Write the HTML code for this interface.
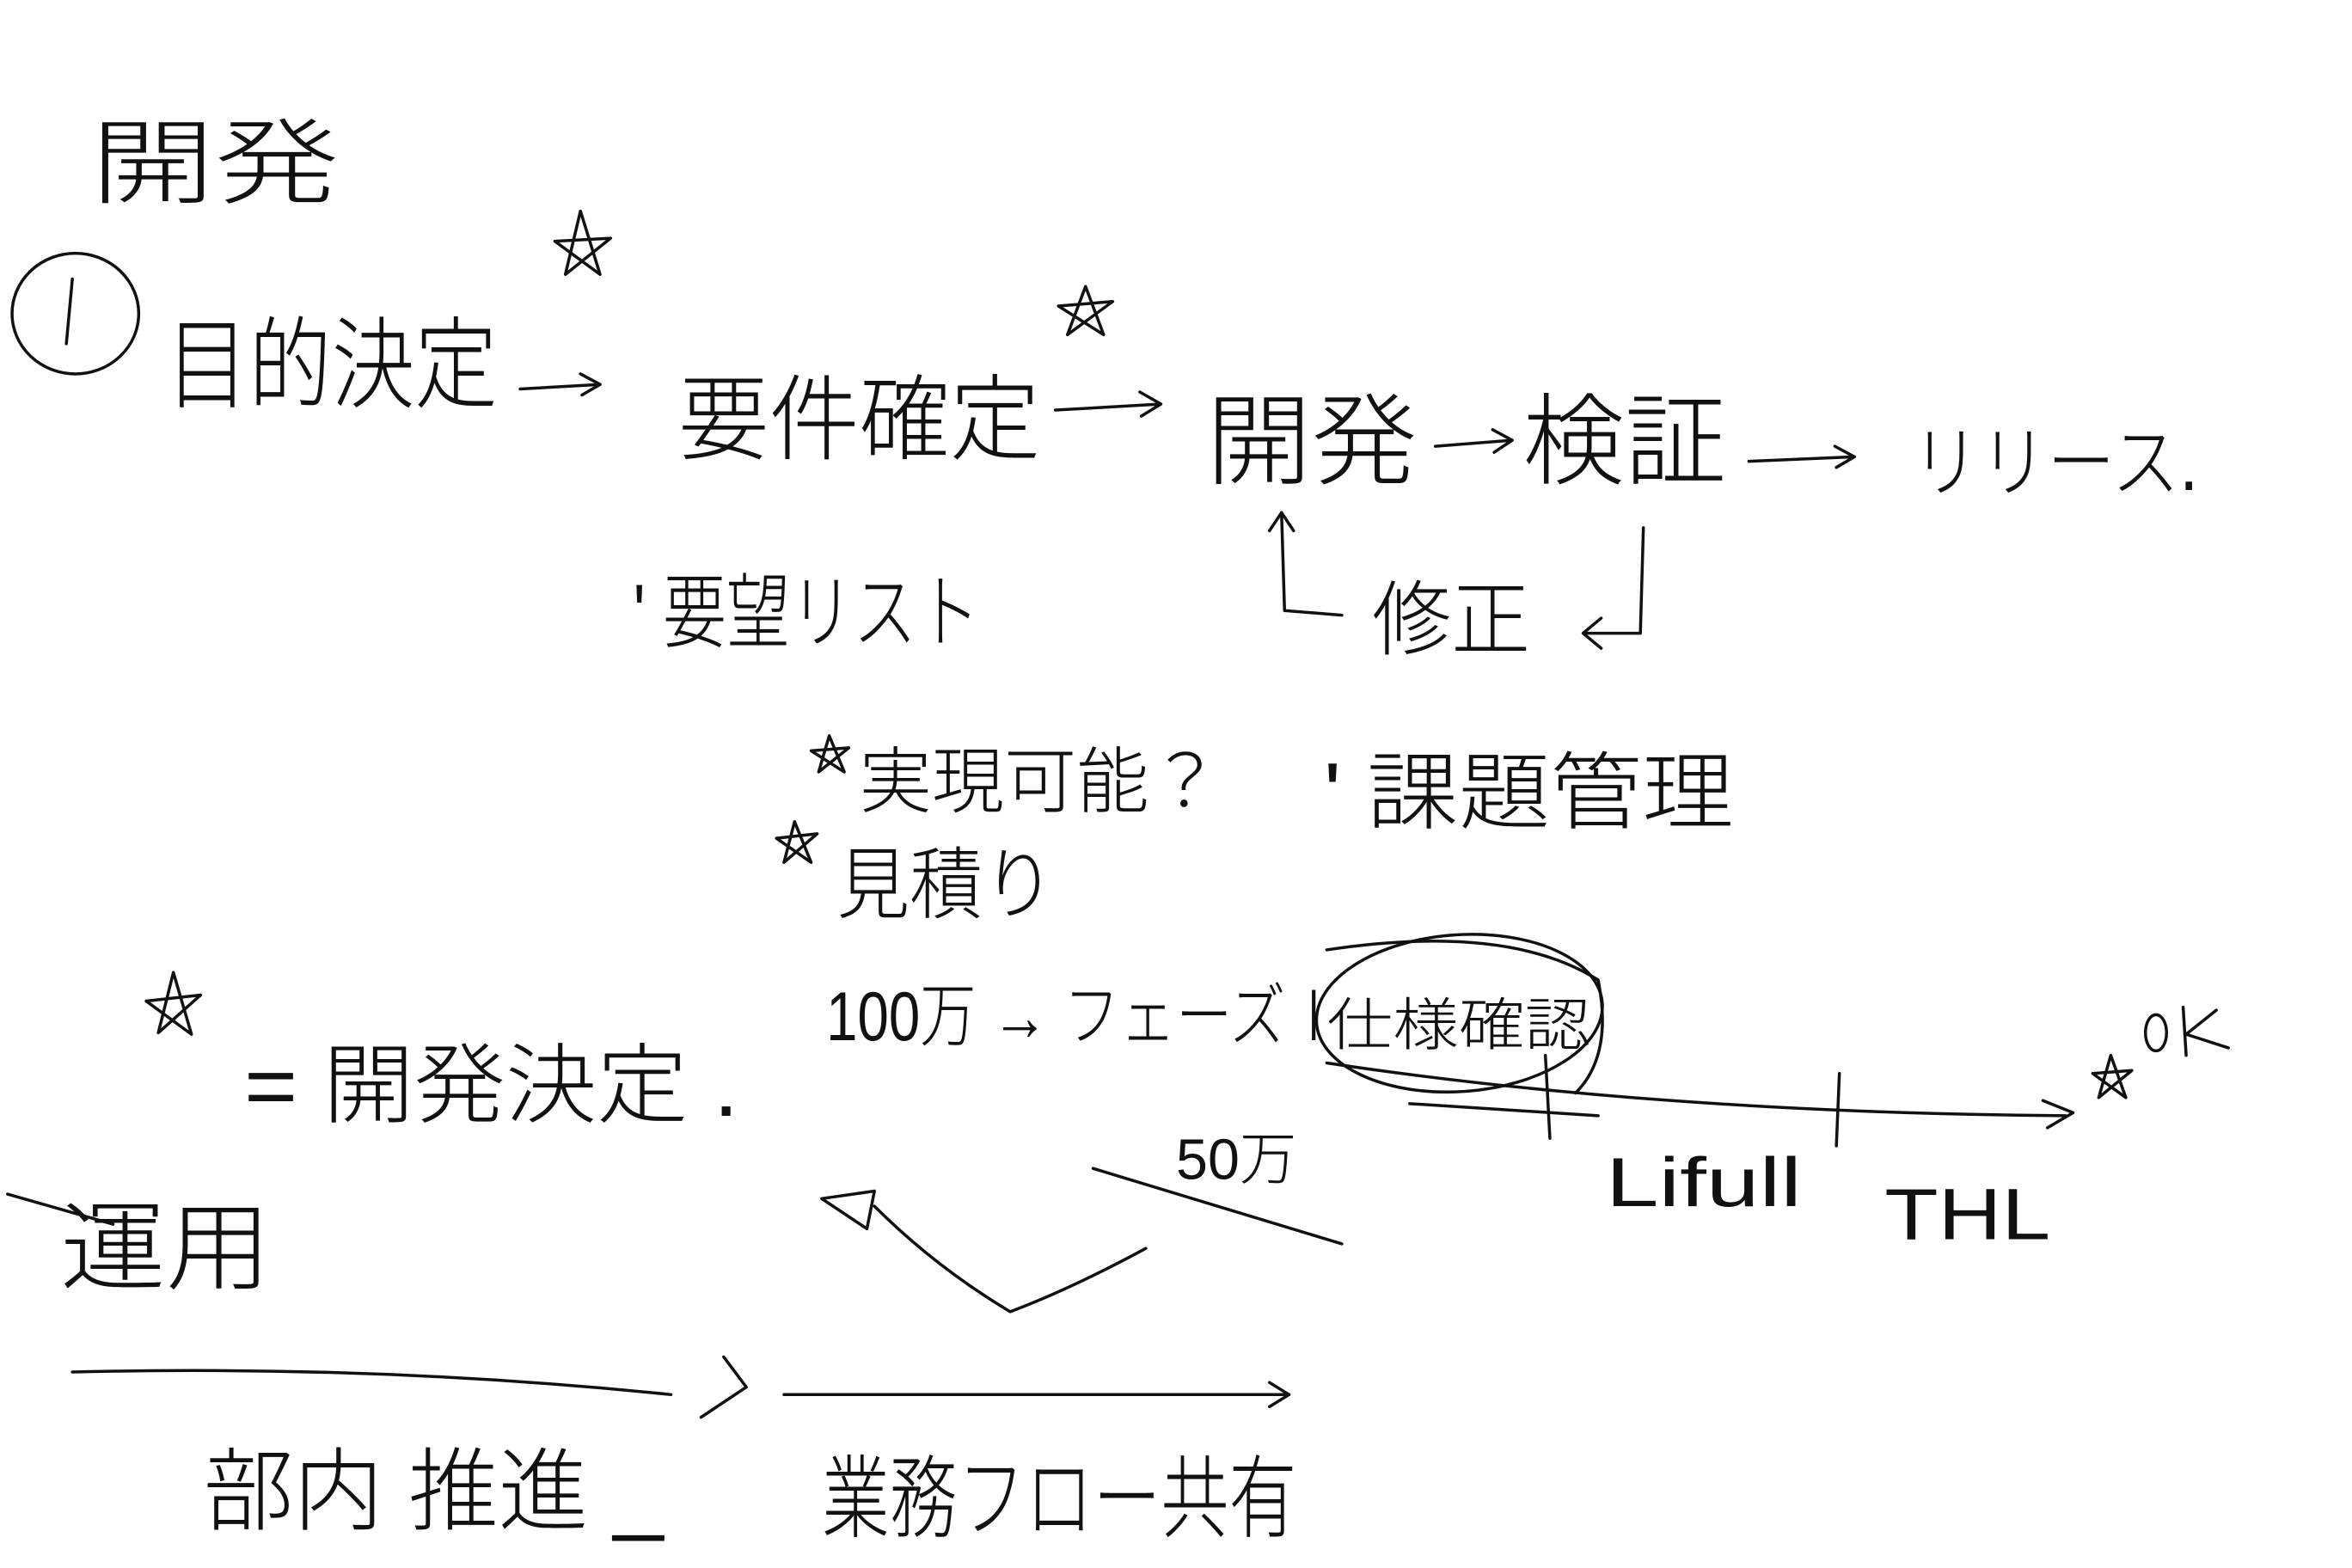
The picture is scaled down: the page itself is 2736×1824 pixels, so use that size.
<!DOCTYPE html>
<html><head><meta charset="utf-8"><style>
html,body{margin:0;padding:0;background:#fff;}
svg{display:block;}
text{font-family:"Liberation Sans","Noto Sans CJK JP",sans-serif;fill:#111;font-weight:300;}
</style></head><body>
<svg width="2736" height="1824" viewBox="0 0 1560 1040" xmlns="http://www.w3.org/2000/svg">
<g fill="none" stroke="#111" stroke-width="2" stroke-linecap="round" stroke-linejoin="round">
<ellipse cx="50" cy="208" rx="42" ry="40"/>
<path d="M48 185 L44 228"/>
<path d="M345 258 L398 255 M385 248 L398 255 L386 262"/>
<path d="M700 272 L770 268 M756 260 L770 268 L757 276"/>
<path d="M952 296 L1003 292 M990 285 L1003 292 L991 300"/>
<path d="M1160 306 L1230 303 M1217 296 L1230 303 L1218 310"/>
<path d="M385 140 L375 182 L405 158 L368 160 L398 182 Z"/>
<path d="M720 190 L708 222 L738 200 L702 203 L732 222 Z"/>
<path d="M550 488 L543 512 L563 496 L538 498 L560 512 Z"/>
<path d="M527 545 L520 572 L542 553 L515 556 L538 572 Z"/>
<path d="M115 645 L105 685 L133 660 L97 664 L127 686 Z"/>
<path d="M1400 700 L1392 728 L1414 710 L1388 712 L1410 728 Z"/>
<path d="M850 340 L852 405 L890 408"/>
<path d="M842 352 L850 340 L858 352"/>
<path d="M1090 350 L1088 420 L1052 420 M1062 410 L1050 420 L1062 430"/>
<ellipse cx="968" cy="672" rx="95" ry="52" transform="rotate(-4 968 672)"/>
<path d="M880 630 Q1000 612 1060 650 Q1070 700 1045 725"/>
<path d="M880 705 Q1100 738 1370 740 M1355 730 L1375 738 L1358 748"/>
<path d="M1025 700 L1028 755 M1220 712 L1218 760"/>
<path d="M935 732 L1060 740"/>
<path d="M725 775 L890 825"/>
<path d="M545 795 L580 790 L575 815 Z"/>
<path d="M580 800 Q620 840 670 870 Q710 855 760 828"/>
<path d="M5 792 L75 812"/>
<path d="M48 910 Q250 905 445 925"/>
<path d="M480 900 L495 920 L465 940"/>
<path d="M520 925 L855 925 M842 917 L855 925 L842 933"/>
<ellipse cx="1430" cy="685" rx="7" ry="12"/>
<path d="M1448 668 L1450 700 M1470 670 L1450 686 L1478 695"/>
</g>
<text x="60" y="130" font-size="62" textLength="165" lengthAdjust="spacingAndGlyphs">開発</text>
<text x="110" y="265" font-size="66" textLength="220" lengthAdjust="spacingAndGlyphs">目的決定</text>
<text x="450" y="300" font-size="62" textLength="240" lengthAdjust="spacingAndGlyphs">要件確定</text>
<text x="800" y="316" font-size="66" textLength="140" lengthAdjust="spacingAndGlyphs">開発</text>
<text x="1010" y="316" font-size="66" textLength="135" lengthAdjust="spacingAndGlyphs">検証</text>
<text x="1268" y="325" font-size="52" textLength="190" lengthAdjust="spacingAndGlyphs">リリース.</text>
<text x="420" y="425" font-size="54" textLength="230" lengthAdjust="spacingAndGlyphs">' 要望リスト</text>
<text x="910" y="430" font-size="54" textLength="105" lengthAdjust="spacingAndGlyphs">修正</text>
<text x="878" y="545" font-size="56" textLength="272" lengthAdjust="spacingAndGlyphs">' 課題管理</text>
<text x="570" y="535" font-size="48" textLength="240" lengthAdjust="spacingAndGlyphs">実現可能？</text>
<text x="555" y="605" font-size="52" textLength="145" lengthAdjust="spacingAndGlyphs">見積り</text>
<text x="548" y="690" font-size="46" textLength="342" lengthAdjust="spacingAndGlyphs">100万 → フェーズⅠ</text>
<text x="780" y="782" font-size="38" textLength="80" lengthAdjust="spacingAndGlyphs">50万</text>
<text x="880" y="693" font-size="38" textLength="175" lengthAdjust="spacingAndGlyphs">仕様確認</text>
<text x="1065" y="800" font-size="46" textLength="130" lengthAdjust="spacingAndGlyphs">Lifull</text>
<text x="1250" y="822" font-size="48" textLength="110" lengthAdjust="spacingAndGlyphs">THL</text>
<text x="162" y="740" font-size="58" textLength="328" lengthAdjust="spacingAndGlyphs">= 開発決定 .</text>
<text x="40" y="850" font-size="64" textLength="140" lengthAdjust="spacingAndGlyphs">運用</text>
<text x="135" y="1010" font-size="60" textLength="305" lengthAdjust="spacingAndGlyphs">部内 推進 _</text>
<text x="545" y="1015" font-size="60" textLength="315" lengthAdjust="spacingAndGlyphs">業務フロー共有</text>
</svg>
</body></html>
